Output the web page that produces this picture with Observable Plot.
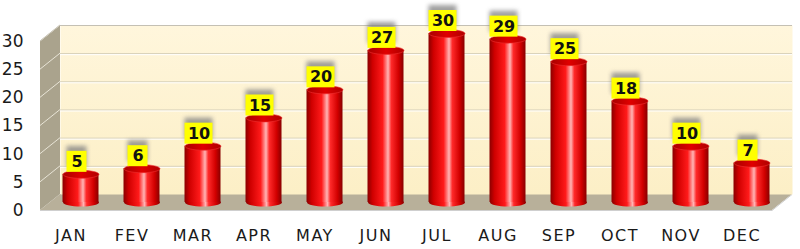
<!DOCTYPE html>
<html>
<head>
<meta charset="utf-8">
<script src="https://cdn.jsdelivr.net/npm/d3@7"></script>
<script src="https://cdn.jsdelivr.net/npm/@observablehq/plot@0.6"></script>
<style>
  body { margin: 0; background: #fff; }
  .xlab text { letter-spacing: 1.5px; }
</style>
</head>
<body>
<div id="chart"></div>
<script>
// Monthly values
const months = ["JAN", "FEV", "MAR", "APR", "MAY", "JUN", "JUL", "AUG", "SEP", "OCT", "NOV", "DEC"];
const values = [5, 6, 10, 15, 20, 27, 30, 29, 25, 18, 10, 7];
const yTicks = [0, 5, 10, 15, 20, 25, 30];

const data = months.map((month, i) => ({month, value: values[i]}));

// Layout of the pseudo-3D box: the scales describe the middle plane,
// the back wall is shifted by (+DX, DY) and the front edge by (-DX, -DY).
const W = 800, H = 249;
const ML = 50, MR = 18, MT = 33, MB = 47;
const DX = 10, DY = -8;
const STEP = (W - ML - MR) / months.length;
const CYL_W = 36;          // cylinder diameter
const RY = 4;              // vertical radius of cylinder caps
const CYL_INSET = (STEP - CYL_W) / 2;
const BOX_H = 21;          // height of the value boxes

// Ellipse symbol for the cylinder caps
const ellipse = {
  draw(ctx, size) {
    const rx = Math.sqrt(size / Math.PI), ry = RY;
    const k = 0.5523;
    ctx.moveTo(rx, 0);
    ctx.bezierCurveTo(rx, k * ry, k * rx, ry, 0, ry);
    ctx.bezierCurveTo(-k * rx, ry, -rx, k * ry, -rx, 0);
    ctx.bezierCurveTo(-rx, -k * ry, -k * rx, -ry, 0, -ry);
    ctx.bezierCurveTo(k * rx, -ry, rx, -k * ry, rx, 0);
    ctx.closePath();
  }
};

// Gradients, side wall, floor and the slanted grid lines of the side wall
function box3d(index, scales, values, dims) {
  const {y} = scales;
  const xl = dims.marginLeft, xr = dims.width - dims.marginRight;
  const y0 = y(0), yTop = y(d3.max(yTicks));
  const g = d3.create("svg:g");

  const defs = g.append("defs");
  const body = defs.append("linearGradient").attr("id", "cylBody");
  [[0, "#8a0000"], [0.14, "#cf0000"], [0.42, "#ff1a1a"], [0.57, "#ffb5b5"],
   [0.66, "#ff2a2a"], [0.86, "#d20000"], [1, "#880000"]]
    .forEach(([o, c]) => body.append("stop").attr("offset", o).attr("stop-color", c));
  const top = defs.append("linearGradient").attr("id", "cylTop");
  [[0, "#a80000"], [0.5, "#e00000"], [1, "#b00000"]]
    .forEach(([o, c]) => top.append("stop").attr("offset", o).attr("stop-color", c));
  const wall = defs.append("linearGradient").attr("id", "wall")
    .attr("x1", 0).attr("y1", 0).attr("x2", 0).attr("y2", 1);
  [[0, "#fff6dc"], [1, "#fcefc6"]]
    .forEach(([o, c]) => wall.append("stop").attr("offset", o).attr("stop-color", c));

  // left side wall
  g.append("path")
    .attr("d", `M${xl - DX},${y0 - DY}L${xl - DX},${yTop - DY}L${xl + DX},${yTop + DY}L${xl + DX},${y0 + DY}Z`)
    .attr("fill", "#aaa38d");
  // slanted grid lines on the side wall
  for (const v of yTicks.slice(1)) {
    g.append("line")
      .attr("x1", xl - DX).attr("y1", y(v) - DY)
      .attr("x2", xl + DX).attr("y2", y(v) + DY)
      .attr("stroke", "#e8e4d6").attr("stroke-width", 1);
  }
  // top edge of side wall
  g.append("line")
    .attr("x1", xl - DX).attr("y1", yTop - DY)
    .attr("x2", xl + DX).attr("y2", yTop + DY)
    .attr("stroke", "#c8c4b8");
  // floor
  g.append("path")
    .attr("d", `M${xl - DX},${y0 - DY}L${xr - DX},${y0 - DY}L${xr + DX},${y0 + DY}L${xl + DX},${y0 + DY}Z`)
    .attr("fill", "#b8b09a");
  g.append("line")
    .attr("x1", xl - DX).attr("y1", y0 - DY + 0.5)
    .attr("x2", xr - DX).attr("y2", y0 - DY + 0.5)
    .attr("stroke", "#cfcfcf");
  g.append("line")
    .attr("x1", xr - DX).attr("y1", y0 - DY + 0.5)
    .attr("x2", xr + DX).attr("y2", y0 + DY + 0.5)
    .attr("stroke", "#cfcfcf");
  return g.node();
}

const oneDigit = data.filter(d => d.value < 10);
const twoDigit = data.filter(d => d.value >= 10);
const labelBox = (rows, w, fill, extra = {}) => Plot.barY(rows, {
  x: "month", y1: "value", y2: "value",
  insetTop: -(2 + BOX_H), insetBottom: 2,
  insetLeft: (STEP - w) / 2 - 4, insetRight: (STEP - w) / 2 + 4,
  fill, ...extra
});

const chart = Plot.plot({
  width: W, height: H,
  marginLeft: ML, marginRight: MR, marginTop: MT, marginBottom: MB,
  style: {fontFamily: "DejaVu Sans, Verdana, sans-serif", background: "#fff", overflow: "visible"},
  x: {type: "band", domain: months, padding: 0, axis: null},
  y: {domain: [0, 30], axis: null},
  marks: [
    box3d,
    // back wall and its grid lines
    Plot.frame({fill: "url(#wall)", dx: DX, dy: DY}),
    Plot.ruleY(yTicks.slice(1), {dx: DX, dy: DY, stroke: "#d3ccb6", strokeWidth: 1}),
    Plot.ruleY(yTicks.slice(1, -1), {dx: DX, dy: DY + 1, stroke: "#ffffff", strokeWidth: 1}),
    Plot.ruleY([30], {dx: DX, dy: DY, stroke: "#c4c0b4"}),
    // cylinders: bottom cap, body, top cap
    Plot.dot(data, {x: "month", y: () => 0, r: CYL_W / 2, symbol: ellipse, fill: "url(#cylBody)", stroke: "none"}),
    Plot.barY(data, {x: "month", y: "value", insetLeft: CYL_INSET, insetRight: CYL_INSET, fill: "url(#cylBody)"}),
    Plot.dot(data, {x: "month", y: "value", r: CYL_W / 2, symbol: ellipse, fill: "url(#cylTop)", stroke: "#f03030", strokeWidth: 0.6}),
    // value labels on yellow boxes with a soft shadow
    labelBox(oneDigit, 20, "#808080", {dy: -5, fillOpacity: 0.75, imageFilter: "blur(2px)"}),
    labelBox(twoDigit, 28, "#808080", {dy: -5, fillOpacity: 0.75, imageFilter: "blur(2px)"}),
    labelBox(oneDigit, 20, "#ffff00"),
    labelBox(twoDigit, 28, "#ffff00"),
    Plot.text(data, {x: "month", y: "value", text: d => String(d.value), dx: -4, dy: -(2 + BOX_H / 2),
      fontSize: 16, fontWeight: "bold", fill: "#111"}),
    // axes labels on the front plane
    Plot.text(yTicks, {y: d => d, frameAnchor: "left", dx: -27, dy: -DY, textAnchor: "end",
      fontSize: 17, fill: "#1a1a1a"}),
    Plot.text(months, {x: d => d, frameAnchor: "bottom", dx: -DX, dy: 27, lineAnchor: "top",
      fontSize: 16, fill: "#1a1a1a", className: "xlab"})
  ]
});

document.getElementById("chart").appendChild(chart);
</script>
</body>
</html>
